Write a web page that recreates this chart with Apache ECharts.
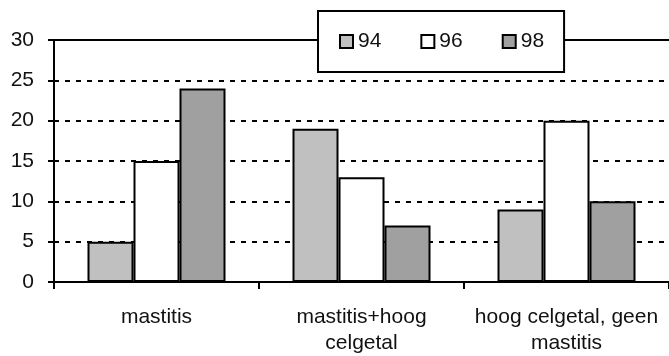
<!DOCTYPE html>
<html>
<head>
<meta charset="utf-8">
<script src="https://cdn.jsdelivr.net/npm/echarts@6/dist/echarts.min.js"></script>
<style>
html,body{margin:0;padding:0;background:#fff;}
#c{width:669px;height:356px;}
</style>
</head>
<body>
<div id="c"></div>
<script>
const categories = ['mastitis', 'mastitis+hoog\ncelgetal', 'hoog celgetal, geen\nmastitis'];
const seriesNames = ['94', '96', '98'];
const values94 = [5, 19, 9];
const values96 = [15, 13, 20];
const values98 = [24, 7, 10];
const yTicks = [0, 5, 10, 15, 20, 25, 30];

const FONT = 'Liberation Sans';
const colors = ['#c0c0c0', '#ffffff', '#a0a0a0'];
const allValues = [values94, values96, values98];

const chart = echarts.init(document.getElementById('c'), null, {renderer: 'canvas'});
chart.setOption({
  animation: false,
  backgroundColor: '#fff',
  grid: {left: 54, right: -9, top: 40, bottom: 73, containLabel: false},
  legend: {
    data: seriesNames,
    left: 318,
    top: 11,
    orient: 'horizontal',
    backgroundColor: '#fff',
    borderColor: '#000',
    borderWidth: 2,
    borderRadius: 0,
    padding: [20, 20, 20, 21],
    itemGap: 39,
    itemWidth: 13,
    itemHeight: 13,
    icon: 'rect',
    itemStyle: {borderColor: '#000', borderWidth: 2},
    textStyle: {color: '#111', fontFamily: FONT, fontSize: 21},
    z: 10
  },
  xAxis: [{
    type: 'category',
    data: categories,
    boundaryGap: true,
    axisLine: {show: true, lineStyle: {color: '#000', width: 2}},
    axisTick: {show: true, alignWithLabel: false, length: 7, lineStyle: {color: '#000', width: 2}},
    axisLabel: {color: '#111', fontFamily: FONT, fontSize: 21, lineHeight: 26, margin: 22, interval: 0},
    splitLine: {show: false}
  }, {
    type: 'category',
    position: 'top',
    data: categories,
    axisLine: {show: true, lineStyle: {color: '#000', width: 2}},
    axisTick: {show: false},
    axisLabel: {show: false},
    splitLine: {show: false}
  }],
  yAxis: {
    type: 'value',
    min: yTicks[0],
    max: yTicks[yTicks.length - 1],
    interval: 5,
    axisLine: {show: true, lineStyle: {color: '#000', width: 2}},
    axisTick: {show: true, length: 6, lineStyle: {color: '#000', width: 2}},
    axisLabel: {color: '#111', fontFamily: FONT, fontSize: 21, margin: 20},
    splitLine: {show: true, lineStyle: {color: '#000', width: 2, type: [5, 6]}}
  },
  series: seriesNames.map((name, i) => ({
    name: name,
    type: 'bar',
    xAxisIndex: 0,
    data: allValues[i],
    barWidth: 46,
    barGap: '0%',
    itemStyle: {color: colors[i], borderColor: '#000', borderWidth: 2},
    emphasis: {disabled: true}
  }))
});
</script>
</body>
</html>
